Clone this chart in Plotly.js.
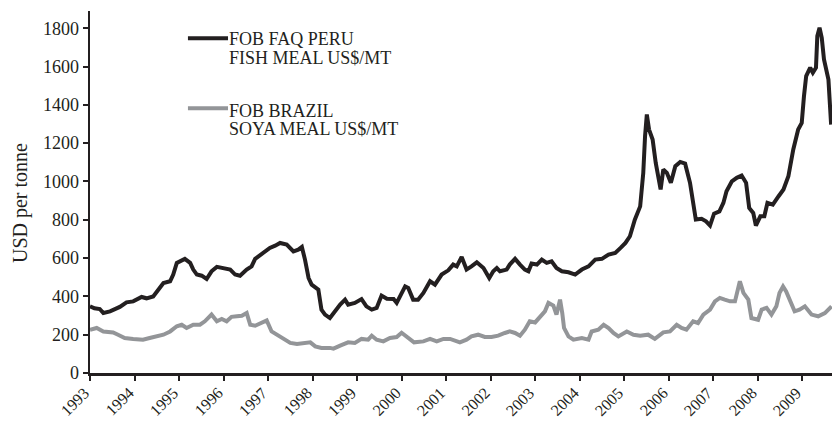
<!DOCTYPE html>
<html>
<head>
<meta charset="utf-8">
<script src="https://cdn.plot.ly/plotly-3.0.1.min.js"></script>
<style>html,body{margin:0;padding:0;background:#fff;}#chart{width:832px;height:421px;}</style>
</head>
<body>
<div id="chart"></div>
<script>
// Year tick labels
const yearLabels = ["1993","1994","1995","1996","1997","1998","1999","2000","2001","2002","2003","2004","2005","2006","2007","2008","2009"];
const yearTicks = [1993,1994,1995,1996,1997,1998,1999,2000,2001,2002,2003,2004,2005,2006,2007,2008,2009];

// FOB FAQ Peru fish meal (US$/MT)
const fishDates = [1993.00,1993.10,1993.22,1993.30,1993.45,1993.67,1993.82,1993.97,1994.16,1994.27,1994.42,1994.54,1994.65,1994.80,1994.87,1994.95,1995.06,1995.13,1995.25,1995.32,1995.40,1995.51,1995.62,1995.73,1995.85,1995.99,1996.15,1996.26,1996.37,1996.52,1996.63,1996.71,1996.89,1997.04,1997.16,1997.27,1997.42,1997.57,1997.68,1997.76,1997.83,1997.91,1997.98,1998.13,1998.20,1998.28,1998.39,1998.47,1998.62,1998.73,1998.80,1998.95,1999.10,1999.21,1999.33,1999.44,1999.55,1999.67,1999.82,1999.89,2000.00,2000.08,2000.15,2000.26,2000.37,2000.49,2000.64,2000.75,2000.90,2001.05,2001.16,2001.24,2001.35,2001.46,2001.57,2001.69,2001.84,2001.97,2002.06,2002.14,2002.21,2002.36,2002.43,2002.55,2002.66,2002.77,2002.85,2002.92,2003.04,2003.15,2003.26,2003.37,2003.48,2003.60,2003.75,2003.90,2004.05,2004.20,2004.35,2004.50,2004.65,2004.80,2004.92,2005.03,2005.13,2005.24,2005.36,2005.43,2005.47,2005.51,2005.56,2005.64,2005.71,2005.82,2005.88,2005.96,2006.05,2006.15,2006.26,2006.37,2006.48,2006.56,2006.61,2006.74,2006.84,2006.93,2007.02,2007.14,2007.23,2007.30,2007.42,2007.53,2007.64,2007.74,2007.81,2007.90,2007.96,2008.06,2008.15,2008.22,2008.34,2008.47,2008.58,2008.69,2008.80,2008.91,2008.99,2009.04,2009.09,2009.18,2009.24,2009.31,2009.34,2009.39,2009.44,2009.49,2009.59,2009.65];
const fishPrice = [348,338,334,313,322,345,369,374,397,390,400,435,470,479,514,575,587,596,575,540,514,508,491,531,554,548,540,514,508,540,557,596,627,653,665,679,670,635,644,658,592,496,461,435,331,305,287,313,357,383,357,366,386,348,331,340,404,388,386,366,418,452,444,383,383,418,479,461,514,536,566,557,606,540,557,578,548,496,531,548,531,540,566,596,566,540,531,571,566,592,575,583,548,531,526,514,540,557,592,596,618,627,653,679,714,800,870,1045,1236,1350,1271,1219,1097,958,1062,1045,993,1080,1102,1093,993,888,801,805,792,770,832,844,888,949,1001,1019,1031,993,862,836,770,818,818,888,879,923,958,1027,1167,1271,1306,1445,1550,1594,1568,1594,1759,1803,1750,1637,1532,1297];

// FOB Brazil soya meal (US$/MT)
const soyaDates = [1993.00,1993.15,1993.30,1993.52,1993.63,1993.78,1993.97,1994.19,1994.34,1994.49,1994.65,1994.80,1994.95,1995.06,1995.17,1995.32,1995.47,1995.58,1995.73,1995.85,1995.96,1996.07,1996.18,1996.30,1996.41,1996.52,1996.60,1996.71,1996.86,1996.97,1997.08,1997.20,1997.35,1997.50,1997.65,1997.80,1997.95,1998.06,1998.20,1998.39,1998.47,1998.62,1998.80,1998.95,1999.10,1999.25,1999.33,1999.44,1999.59,1999.74,1999.89,2000.00,2000.12,2000.28,2000.49,2000.64,2000.79,2000.94,2001.09,2001.20,2001.31,2001.46,2001.57,2001.72,2001.87,2002.02,2002.17,2002.32,2002.43,2002.55,2002.66,2002.77,2002.88,2003.00,2003.11,2003.22,2003.30,2003.41,2003.48,2003.56,2003.61,2003.65,2003.75,2003.86,2004.05,2004.20,2004.27,2004.42,2004.54,2004.65,2004.76,2004.87,2005.06,2005.21,2005.36,2005.54,2005.69,2005.88,2006.03,2006.18,2006.29,2006.40,2006.55,2006.66,2006.78,2006.93,2007.04,2007.15,2007.26,2007.38,2007.49,2007.60,2007.68,2007.79,2007.86,2008.01,2008.09,2008.20,2008.31,2008.42,2008.49,2008.57,2008.64,2008.72,2008.83,2008.94,2009.06,2009.21,2009.36,2009.51,2009.66];
const soyaPrice = [226,235,217,212,200,183,178,174,183,191,200,217,244,252,235,252,252,270,305,270,282,270,293,296,299,313,252,247,264,275,217,200,174,157,151,157,160,139,131,131,127,143,160,157,178,174,195,174,165,183,188,210,191,160,165,178,165,178,178,170,160,174,191,200,188,188,195,209,217,209,195,226,270,264,296,322,366,352,305,383,313,235,191,174,183,174,217,226,252,235,209,191,217,200,195,200,178,212,217,252,235,226,270,261,305,331,374,392,383,374,374,479,418,383,287,278,331,340,305,348,418,452,426,383,322,331,348,305,296,313,348];

const ink = '#231f20';
const serif = 'Liberation Serif, Times New Roman, serif';

const traces = [
  {x: soyaDates, y: soyaPrice, type: 'scatter', mode: 'lines', name: 'FOB BRAZIL SOYA MEAL US$/MT',
   line: {color: '#939598', width: 4}},
  {x: fishDates, y: fishPrice, type: 'scatter', mode: 'lines', name: 'FOB FAQ PERU FISH MEAL US$/MT',
   line: {color: ink, width: 4}}
];

const axisCommon = {
  showgrid: false, zeroline: false, showline: true, linecolor: ink, linewidth: 2.5,
  ticks: 'outside', ticklen: 5, tickwidth: 2, tickcolor: ink,
  tickfont: {family: serif, size: 18, color: ink}
};

// Rotated year labels placed just below each tick
const yearAnnotations = yearTicks.map((yr, i) => ({
  xref: 'x', yref: 'paper', x: yr, y: 0, xanchor: 'right', yanchor: 'top',
  xshift: 4, yshift: -10, textangle: -45, showarrow: false, borderpad: 0,
  text: yearLabels[i], font: {family: serif, size: 16, color: ink}
}));

const layout = {
  width: 832, height: 421,
  margin: {l: 90, r: 0, t: 11, b: 48},
  paper_bgcolor: '#fff', plot_bgcolor: '#fff',
  showlegend: false,
  xaxis: Object.assign({}, axisCommon, {range: [1993, 2009.67], tickvals: yearTicks, ticktext: yearLabels, showticklabels: false}),
  yaxis: Object.assign({}, axisCommon, {range: [0, 1890], tickvals: [0,200,400,600,800,1000,1200,1400,1600,1800]}),
  shapes: [
    {type: 'line', xref: 'paper', yref: 'paper', x0: 0.132, x1: 0.186, y0: 0.9246, y1: 0.9246, line: {color: ink, width: 4}},
    {type: 'line', xref: 'paper', yref: 'paper', x0: 0.132, x1: 0.186, y0: 0.7312, y1: 0.7312, line: {color: '#939598', width: 4}}
  ],
  annotations: [
    {xref: 'paper', yref: 'paper', x: 0.186, y: 0.9227, xanchor: 'left', yanchor: 'middle', showarrow: false, borderpad: 0, text: 'FOB FAQ PERU', font: {family: serif, size: 18, color: ink}},
    {xref: 'paper', yref: 'paper', x: 0.186, y: 0.8715, xanchor: 'left', yanchor: 'middle', showarrow: false, borderpad: 0, text: 'FISH MEAL US$/MT', font: {family: serif, size: 18, color: ink}},
    {xref: 'paper', yref: 'paper', x: 0.186, y: 0.7243, xanchor: 'left', yanchor: 'middle', showarrow: false, borderpad: 0, text: 'FOB BRAZIL', font: {family: serif, size: 18, color: ink}},
    {xref: 'paper', yref: 'paper', x: 0.186, y: 0.674, xanchor: 'left', yanchor: 'middle', showarrow: false, borderpad: 0, text: 'SOYA MEAL US$/MT', font: {family: serif, size: 18, color: ink}},
    {xref: 'paper', yref: 'paper', x: -0.0943, y: 0.4696, xanchor: 'center', yanchor: 'middle', showarrow: false, textangle: -90, text: 'USD per tonne', font: {family: serif, size: 20, color: ink}}
  ].concat(yearAnnotations)
};

Plotly.newPlot('chart', traces, layout, {staticPlot: true, displayModeBar: false});
</script>
</body>
</html>
